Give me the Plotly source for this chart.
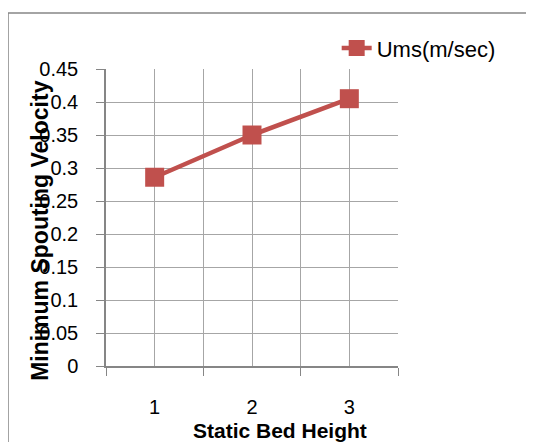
import plotly.graph_objects as go

categories = [1, 2, 3]
category_labels = ["1", "2", "3"]
ums = [0.286, 0.350, 0.405]
y_ticks = [0, 0.05, 0.1, 0.15, 0.2, 0.25, 0.3, 0.35, 0.4, 0.45]
y_tick_labels = ["0", "0.05", "0.1", "0.15", "0.2", "0.25", "0.3", "0.35", "0.4", "0.45"]
series_name = "Ums(m/sec)"
x_title = "Static Bed Height"
y_title = "Minimum Spouting Velocity"

RED = "#C0504D"
GRID = "#A6A6A6"
AXIS = "#868686"
FONT = "Liberation Sans"

fig = go.Figure()
fig.add_trace(go.Scatter(
    x=categories, y=ums, name=series_name, mode="lines+markers",
    line=dict(color=RED, width=4.5),
    marker=dict(symbol="square", size=19, color=RED),
))

fig.update_layout(
    width=526, height=434,
    margin=dict(l=98, r=136, t=61, b=76),
    paper_bgcolor="white", plot_bgcolor="white",
    font=dict(family=FONT, size=20, color="black"),
    showlegend=True,
    legend=dict(x=0.79, y=1.07, xanchor="left", yanchor="middle",
                font=dict(size=22), bgcolor="rgba(0,0,0,0)"),
    xaxis=dict(
        range=[0.5, 3.5], tickvals=categories, ticktext=category_labels,
        ticks="", showgrid=True, gridcolor=GRID, gridwidth=1,
        showline=True, linecolor=AXIS, linewidth=1.5,
        zeroline=False, ticklabelstandoff=22,
        minor=dict(tickvals=[0.5, 1.5, 2.5, 3.5], ticks="outside", ticklen=8,
                   tickcolor=AXIS, showgrid=True, gridcolor=GRID, gridwidth=1),
    ),
    yaxis=dict(
        range=[0, 0.45], tickvals=y_ticks, ticktext=y_tick_labels,
        ticks="outside", ticklen=8, tickcolor=AXIS,
        showgrid=True, gridcolor=GRID, gridwidth=1,
        showline=True, linecolor=AXIS, linewidth=1.5,
        zeroline=False, ticklabelstandoff=14,
    ),
    shapes=[dict(type="rect", xref="paper", yref="paper",
                 x0=-0.3356, x1=1.8, y0=-0.5, y1=1.1886,
                 line=dict(color=AXIS, width=1.5), layer="below")],
    annotations=[
        dict(text="<b>" + y_title + "</b>", xref="paper", yref="paper",
             x=(40 - 106) / 292, y=0.455, xanchor="center", yanchor="middle",
             textangle=-90, showarrow=False, font=dict(size=23)),
        dict(text="<b>" + x_title + "</b>", xref="paper", yref="paper",
             x=(280 - 106) / 292, y=(366 - 430) / 297, xanchor="center", yanchor="middle",
             showarrow=False, font=dict(size=21)),
    ],
)

fig.write_html("out.html")
